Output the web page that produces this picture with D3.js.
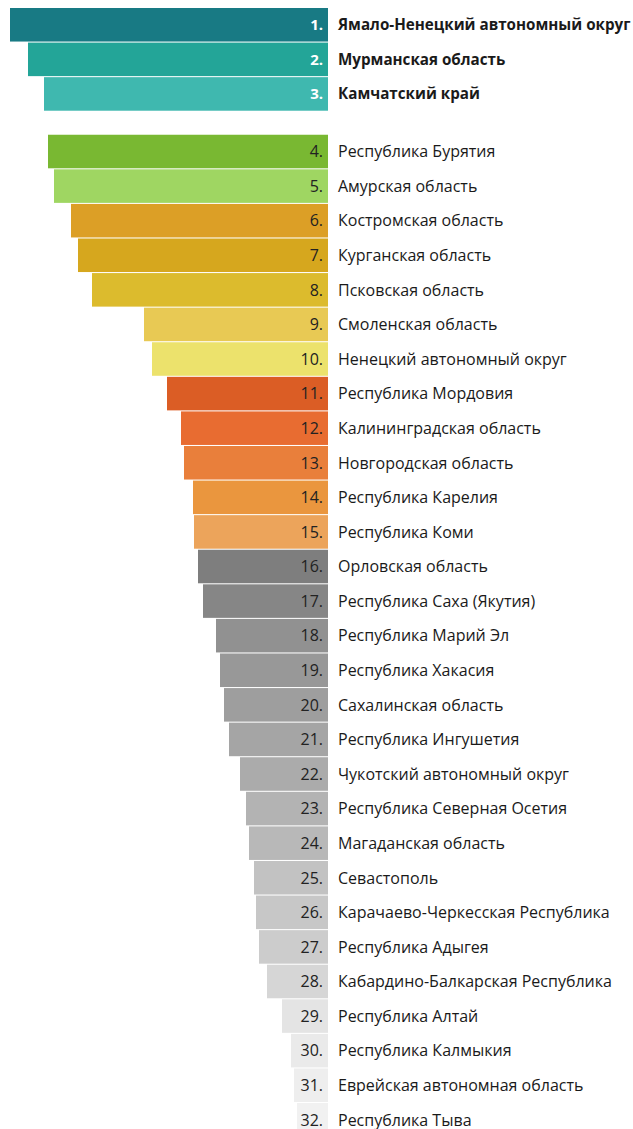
<!DOCTYPE html>
<html>
<head>
<meta charset="utf-8">
<script src="https://cdn.jsdelivr.net/npm/d3@7"></script>
<style>
  html, body { margin: 0; padding: 0; background: #fff; }
  svg { display: block; }
  text { font-family: "Open Sans", "Noto Sans", sans-serif; }
</style>
</head>
<body>
<svg></svg>
<script>
const regions = [
  "Ямало-Ненецкий автономный округ", "Мурманская область", "Камчатский край",
  "Республика Бурятия", "Амурская область", "Костромская область",
  "Курганская область", "Псковская область", "Смоленская область",
  "Ненецкий автономный округ", "Республика Мордовия", "Калининградская область",
  "Новгородская область", "Республика Карелия", "Республика Коми",
  "Орловская область", "Республика Саха (Якутия)", "Республика Марий Эл",
  "Республика Хакасия", "Сахалинская область", "Республика Ингушетия",
  "Чукотский автономный округ", "Республика Северная Осетия", "Магаданская область",
  "Севастополь", "Карачаево-Черкесская Республика", "Республика Адыгея",
  "Кабардино-Балкарская Республика", "Республика Алтай", "Республика Калмыкия",
  "Еврейская автономная область", "Республика Тыва"
];
// bar lengths (no axis in the original)
const values = [
  318, 300, 284, 280, 274, 257, 250, 236, 184, 176, 161, 147, 144, 135, 134, 130,
  125, 112, 108, 104, 99, 88, 82, 79, 74, 72, 69, 61, 46, 37, 34, 31
];
const ranks = d3.range(1, regions.length + 1);
const leaders = 3;

const palette = [
  "#187a84", "#23a598", "#3fb8af",
  "#79b832", "#9fd662",
  "#dc9f26", "#d6a71e", "#dcbb2d", "#e8c954", "#ece26c",
  "#db5d25", "#e86c31", "#e97f3b", "#ea963e", "#eca45b",
  "#7e7e7e", "#868686", "#919191", "#989898", "#9e9e9e", "#a5a5a5",
  "#ababab", "#b3b3b3", "#b8b8b8", "#c2c2c2", "#c7c7c7", "#cccccc",
  "#d6d6d6", "#e4e4e4", "#eaeaea", "#eeeeee", "#f1f1f1"
];

const W = 633, H = 1129;
const svg = d3.select("svg").attr("width", W).attr("height", H);

const right = 328;
const x = d3.scaleLinear().domain([0, 318]).range([0, 318]);
const color = d3.scaleOrdinal().domain(regions).range(palette);

const step = 34.55, y0 = 8, gap = 23;
const y = d3.scaleBand()
  .domain(ranks)
  .range([y0, y0 + step * ranks.length])
  .paddingInner(0.03);
const yPos = r => y(r) + (r > leaders ? gap : 0);

const rows = svg.append("g")
  .selectAll("g")
  .data(ranks)
  .join("g")
  .attr("transform", r => `translate(0,${yPos(r)})`);

rows.append("rect")
  .attr("x", r => right - x(values[r - 1]))
  .attr("width", r => x(values[r - 1]))
  .attr("height", y.bandwidth())
  .attr("fill", r => color(regions[r - 1]));

const lead = r => r <= leaders;

rows.append("text")
  .attr("x", right - 5)
  .attr("y", y.bandwidth() / 2)
  .attr("dy", "0.36em")
  .attr("text-anchor", "end")
  .attr("font-size", r => lead(r) ? 15 : 16)
  .attr("font-weight", r => lead(r) ? 700 : 400)
  .attr("fill", r => lead(r) ? "#fff" : "#222")
  .text(r => r + ".");

rows.append("text")
  .attr("x", right + 10)
  .attr("y", y.bandwidth() / 2)
  .attr("dy", "0.36em")
  .attr("font-size", r => lead(r) ? 15.2 : 16)
  .attr("font-weight", r => lead(r) ? 700 : 400)
  .attr("fill", "#1a1a1a")
  .text(r => regions[r - 1]);
</script>
</body>
</html>
